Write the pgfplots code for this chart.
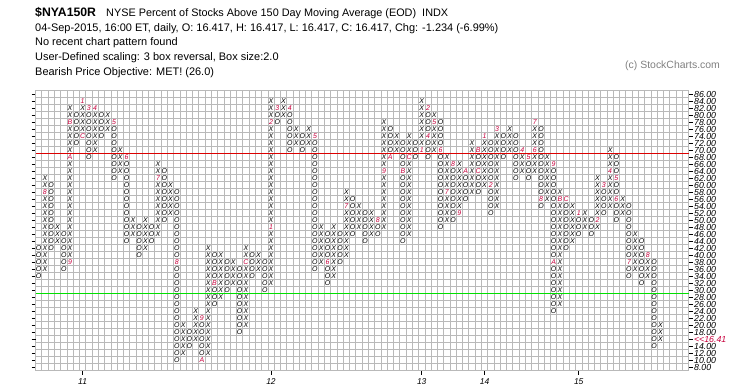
\documentclass[border=0pt]{standalone}
\usepackage{fontspec}
\setmainfont{Liberation Sans}
\usepackage{pgfplots}
\pgfplotsset{compat=1.18}
\definecolor{mred}{RGB}{200,0,60}
\definecolor{gridc}{RGB}{185,185,185}
\definecolor{sigred}{RGB}{220,0,0}
\definecolor{siggreen}{RGB}{0,225,0}
\newcommand\pfont{\fontsize{7}{7}\selectfont\itshape}
\pgfplotsset{
  pfX/.style={only marks, scatter, point meta=y, mark=text, text mark={},
    scatter/@pre marker code/.code={\node[inner sep=0pt,font=\pfont,text=black]{X};},
    scatter/@post marker code/.code={}},
  pfO/.style={only marks, scatter, point meta=y, mark=text, text mark={},
    scatter/@pre marker code/.code={\node[inner sep=0pt,font=\pfont,text=black]{O};},
    scatter/@post marker code/.code={}},
  pfM/.style={only marks, scatter, point meta=explicit symbolic, mark=text, text mark={},
    scatter/@pre marker code/.code={\node[inner sep=0pt,font=\pfont,text=mred]{\pgfplotspointmeta};},
    scatter/@post marker code/.code={}},
}
\begin{document}
\begin{tikzpicture}
\useasboundingbox (0bp,0bp) rectangle (745bp,391bp);
\node[anchor=base west,font=\fontsize{12.3}{13}\selectfont\bfseries,inner sep=0pt] at (35bp,374.5bp) {\$NYA150R};
\node[anchor=base west,font=\fontsize{10.9}{12}\selectfont,inner sep=0pt] at (106bp,374.5bp) {NYSE Percent of Stocks Above 150 Day Moving Average (EOD)\ \ INDX};
\node[anchor=base west,font=\fontsize{11}{12}\selectfont,inner sep=0pt] at (35bp,359bp) {04-Sep-2015, 16:00 ET, daily, O: 16.417, H: 16.417, L: 16.417, C: 16.417, Chg: -1.234 (-6.99\%)};
\node[anchor=base west,font=\fontsize{11}{12}\selectfont,inner sep=0pt] at (35bp,345.5bp) {No recent chart pattern found};
\node[anchor=base west,font=\fontsize{11}{12}\selectfont,inner sep=0pt] at (35bp,330bp) {User-Defined scaling: 3 box reversal, Box size:2.0};
\node[anchor=base west,font=\fontsize{11}{12}\selectfont,inner sep=0pt] at (35bp,315bp) {Bearish Price Objective: MET! (26.0)};
\node[anchor=base west,font=\fontsize{10.5}{11}\selectfont,inner sep=0pt,text=black!50] at (625bp,322.5bp) {(c) StockCharts.com};
\begin{axis}[
  at={(35.5bp,20.5bp)}, anchor=south west, width=653.1bp, height=280bp, scale only axis,
  xmin=0.5, xmax=104.5, ymin=7, ymax=87, clip=false,
  axis line style={gridc},
  ytick={8,10,12,14,18,20,22,24,26,28,30,32,34,36,38,40,42,44,46,48,50,52,54,56,58,60,62,64,66,68,70,72,74,76,78,80,82,84,86},
  ytick pos=both, yticklabel pos=right,
  yticklabel style={font=\fontsize{8.8}{8.8}\selectfont\itshape, anchor=west, xshift=-2bp, inner ysep=0pt},
  /pgf/number format/fixed, /pgf/number format/fixed zerofill, /pgf/number format/precision=2,
  /pgf/number format/assume math mode=true,
  extra y ticks={16}, extra y tick labels={{<}{<}16.41},
  extra y tick style={yticklabel style={text=mred}},
  minor ytick={7,9,...,87}, yminorgrids,
  minor xtick={0.5,1.5,...,104.5}, xminorgrids,
  minor grid style={gridc, line width=0.7bp},
  minor tick length=0pt,
  major tick length=4bp,
  tick style={black, line width=0.6bp},
  xtick={8,38,62,72,87}, xticklabels={11,12,13,14,15},
  xtick pos=bottom, tick align=outside,
  xticklabel style={font=\fontsize{8.5}{9}\selectfont\itshape, yshift=-0.5bp},
]
% signal lines at 69 (red) and 29 (green), as thin filled bands
\addplot[fill=sigred, draw=none, mark=none, forget plot] coordinates {(0.5,68.72) (104.5,68.72) (104.5,69.28) (0.5,69.28)};
\addplot[fill=siggreen, draw=none, mark=none, forget plot] coordinates {(0.5,28.72) (104.5,28.72) (104.5,29.28) (0.5,29.28)};
% X boxes
\addplot[pfX] coordinates {
(2,36)(2,38)(2,40)(2,42)(2,44)(2,46)(2,48)(2,50)(2,52)(2,54)(2,56)(2,60)(2,62)
(4,44)(4,46)(4,48)
(6,40)(6,42)(6,44)(6,46)(6,48)(6,50)(6,52)(6,54)(6,56)(6,58)(6,60)(6,62)(6,64)(6,66)(6,70)(6,72)(6,74)(6,76)(6,80)(6,82)
(8,76)(8,78)(8,80)(8,82)
(10,70)(10,72)(10,74)(10,76)(10,78)(10,80)
(12,76)(12,78)(12,80)
(14,64)(14,66)(14,68)(14,70)
(16,46)(16,48)(16,50)
(18,42)(18,44)(18,46)(18,48)(18,50)
(20,46)(20,48)(20,50)(20,52)(20,54)(20,56)(20,58)(20,60)(20,64)(20,66)
(22,52)(22,54)(22,56)(22,58)(22,60)
(24,12)(24,14)(24,16)(24,18)(24,20)
(26,16)(26,18)(26,20)(26,22)(26,24)
(28,12)(28,14)(28,16)(28,18)(28,20)(28,22)(28,24)(28,26)(28,28)(28,30)(28,32)(28,34)(28,36)(28,38)(28,40)(28,42)
(30,28)(30,30)(30,32)(30,34)(30,36)(30,38)(30,40)
(32,32)(32,34)(32,36)(32,38)
(34,20)(34,22)(34,24)(34,26)(34,28)(34,30)(34,32)(34,34)(34,36)(34,40)(34,42)
(36,36)(36,38)(36,40)
(38,32)(38,34)(38,36)(38,38)(38,40)(38,42)(38,44)(38,46)(38,50)(38,52)(38,54)(38,56)(38,58)(38,60)(38,62)(38,64)(38,66)(38,68)(38,70)(38,72)(38,74)(38,76)(38,80)(38,82)(38,84)
(40,80)(40,82)(40,84)
(42,72)(42,74)(42,76)
(44,72)(44,74)(44,76)
(46,38)(46,40)(46,42)(46,44)(46,46)(46,48)
(48,34)(48,36)(48,38)(48,40)(48,42)(48,44)(48,46)(48,48)
(50,40)(50,42)(50,44)(50,46)(50,48)(50,50)(50,52)(50,56)(50,58)
(52,48)(52,50)(52,52)(52,54)
(54,46)(54,48)(54,50)(54,52)
(56,48)(56,50)(56,52)(56,54)(56,56)(56,58)(56,60)(56,62)(56,66)(56,68)(56,70)(56,72)(56,74)(56,76)(56,78)
(58,70)(58,72)(58,74)
(60,46)(60,48)(60,50)(60,52)(60,54)(60,56)(60,58)(60,60)(60,62)(60,64)(60,66)(60,70)(60,72)(60,74)
(62,72)(62,74)(62,76)(62,78)(62,80)(62,82)(62,84)
(64,70)(64,72)(64,74)(64,76)(64,80)
(66,50)(66,52)(66,54)(66,56)(66,60)(66,62)(66,64)(66,66)(66,68)
(68,54)(68,56)(68,58)(68,60)(68,62)(68,64)(68,66)
(70,58)(70,60)(70,62)(70,64)(70,66)(70,68)(70,70)(70,72)
(72,60)(72,62)(72,64)(72,66)(72,68)(72,70)(72,72)
(74,54)(74,56)(74,58)(74,60)(74,62)(74,64)(74,66)(74,68)(74,70)(74,72)(74,74)
(76,70)(76,72)(76,74)(76,76)
(78,64)(78,66)(78,68)
(80,64)(80,66)(80,68)(80,72)(80,74)(80,76)
(82,56)(82,58)(82,60)(82,62)(82,64)(82,66)(82,68)
(84,26)(84,28)(84,30)(84,32)(84,34)(84,36)(84,38)(84,40)(84,42)(84,44)(84,46)(84,48)(84,50)(84,52)(84,54)(84,58)
(86,44)(86,46)(86,48)(86,50)(86,52)(86,54)
(88,48)(88,50)(88,52)
(90,48)(90,52)(90,54)(90,56)(90,58)(90,60)(90,62)
(92,54)(92,56)(92,58)(92,60)(92,62)(92,66)(92,68)(92,70)
(94,52)(94,54)(94,56)
(96,36)(96,38)(96,40)(96,42)(96,44)(96,46)
(98,34)(98,36)(98,38)
(100,16)(100,18)(100,20)
};
% O boxes
\addplot[pfO] coordinates {
(1,34)(1,36)(1,38)(1,40)(1,42)
(3,42)(3,44)(3,46)(3,48)(3,50)(3,52)(3,54)(3,56)(3,58)(3,60)
(5,36)(5,38)(5,40)(5,42)(5,44)(5,46)
(7,72)(7,74)(7,76)(7,78)(7,80)
(9,68)(9,70)(9,72)(9,74)(9,76)(9,78)(9,80)
(11,74)(11,76)(11,78)(11,80)
(13,62)(13,64)(13,66)(13,68)(13,70)(13,72)(13,74)(13,76)
(15,44)(15,46)(15,48)(15,50)(15,52)(15,54)(15,56)(15,58)(15,60)(15,62)(15,64)(15,66)
(17,40)(17,42)(17,44)(17,46)(17,48)
(19,44)(19,46)(19,48)
(21,50)(21,52)(21,54)(21,56)(21,58)(21,60)(21,62)(21,64)
(23,10)(23,12)(23,14)(23,16)(23,18)(23,20)(23,22)(23,24)(23,26)(23,28)(23,30)(23,32)(23,34)(23,36)(23,40)(23,42)(23,44)(23,46)(23,48)(23,50)(23,52)(23,54)(23,56)(23,58)
(25,14)(25,16)(25,18)
(27,12)(27,14)(27,16)(27,18)(27,20)
(29,26)(29,28)(29,30)(29,34)(29,36)(29,38)(29,40)
(31,30)(31,32)(31,34)(31,36)(31,38)
(33,18)(33,20)(33,22)(33,24)(33,26)(33,28)(33,30)(33,32)(33,34)(33,36)
(35,34)(35,36)(35,38)(35,40)
(37,30)(37,32)(37,34)(37,36)(37,38)
(39,78)(39,80)
(41,70)(41,72)(41,74)(41,76)(41,78)(41,80)
(43,70)(43,72)(43,74)
(45,36)(45,38)(45,40)(45,42)(45,44)(45,46)(45,48)(45,50)(45,52)(45,54)(45,56)(45,58)(45,60)(45,62)(45,64)(45,66)(45,68)(45,70)(45,72)
(47,32)(47,34)(47,36)(47,40)(47,42)(47,44)(47,46)
(49,38)(49,40)(49,42)(49,44)(49,46)
(51,46)(51,48)(51,50)(51,52)(51,54)(51,56)
(53,44)(53,46)(53,48)(53,50)(53,52)
(55,46)(55,48)
(57,70)(57,72)(57,74)(57,76)
(59,44)(59,46)(59,48)(59,50)(59,52)(59,54)(59,56)(59,58)(59,60)(59,62)(59,66)(59,68)(59,70)(59,72)
(61,68)(61,70)(61,72)
(63,68)(63,70)(63,72)(63,76)(63,78)(63,80)
(65,48)(65,50)(65,52)(65,54)(65,56)(65,58)(65,60)(65,62)(65,64)(65,66)(65,68)(65,72)(65,74)(65,76)(65,78)
(67,50)(67,52)(67,54)(67,56)(67,58)(67,60)(67,62)(67,64)
(69,56)(69,58)(69,60)(69,62)
(71,58)(71,60)(71,62)(71,66)(71,68)
(73,52)(73,54)(73,56)(73,58)(73,62)(73,64)(73,66)(73,68)(73,70)(73,72)
(75,68)(75,70)(75,72)(75,74)
(77,62)(77,64)(77,66)(77,68)(77,70)(77,72)(77,74)
(79,62)(79,64)(79,66)
(81,54)(81,58)(81,60)(81,62)(81,64)(81,66)(81,68)(81,70)(81,72)(81,74)(81,76)
(83,24)(83,26)(83,28)(83,30)(83,32)(83,34)(83,36)(83,40)(83,42)(83,44)(83,46)(83,48)(83,50)(83,52)(83,54)(83,56)(83,58)(83,60)(83,62)(83,64)
(85,42)(85,44)(85,46)(85,48)(85,50)(85,52)(85,54)
(87,46)(87,48)(87,50)
(89,46)(89,48)(89,50)
(91,52)(91,54)(91,56)(91,58)
(93,50)(93,52)(93,54)(93,58)(93,60)(93,64)(93,66)(93,68)
(95,34)(95,36)(95,40)(95,42)(95,44)(95,46)(95,48)(95,50)(95,52)(95,54)
(97,32)(97,34)(97,36)(97,38)(97,40)(97,42)(97,44)
(99,14)(99,16)(99,18)(99,20)(99,22)(99,24)(99,26)(99,28)(99,30)(99,32)(99,34)(99,36)(99,38)
};
% month markers
\addplot[pfM] table[meta=l] {
x y l
2 58 8
6 38 9
6 68 A
6 78 B
8 74 C
8 84 1
9 82 3
10 82 4
13 78 5
15 68 6
20 62 7
23 38 8
27 22 9
27 10 A
29 32 B
34 38 C
38 48 1
38 78 2
39 82 3
41 82 4
45 74 5
47 38 6
50 54 7
55 50 8
56 64 9
57 68 A
59 64 B
60 68 C
62 70 1
63 82 2
63 74 4
64 78 5
65 70 6
66 58 7
67 66 8
68 52 9
69 64 A
71 70 B
71 64 C
72 74 1
73 60 2
74 76 3
78 70 4
79 68 5
80 70 6
80 78 7
81 56 8
83 66 9
83 38 A
84 56 B
85 56 C
87 52 1
90 50 2
91 60 3
92 64 4
93 62 5
93 56 6
95 38 7
98 40 8
};
\end{axis}
\end{tikzpicture}
\end{document}
